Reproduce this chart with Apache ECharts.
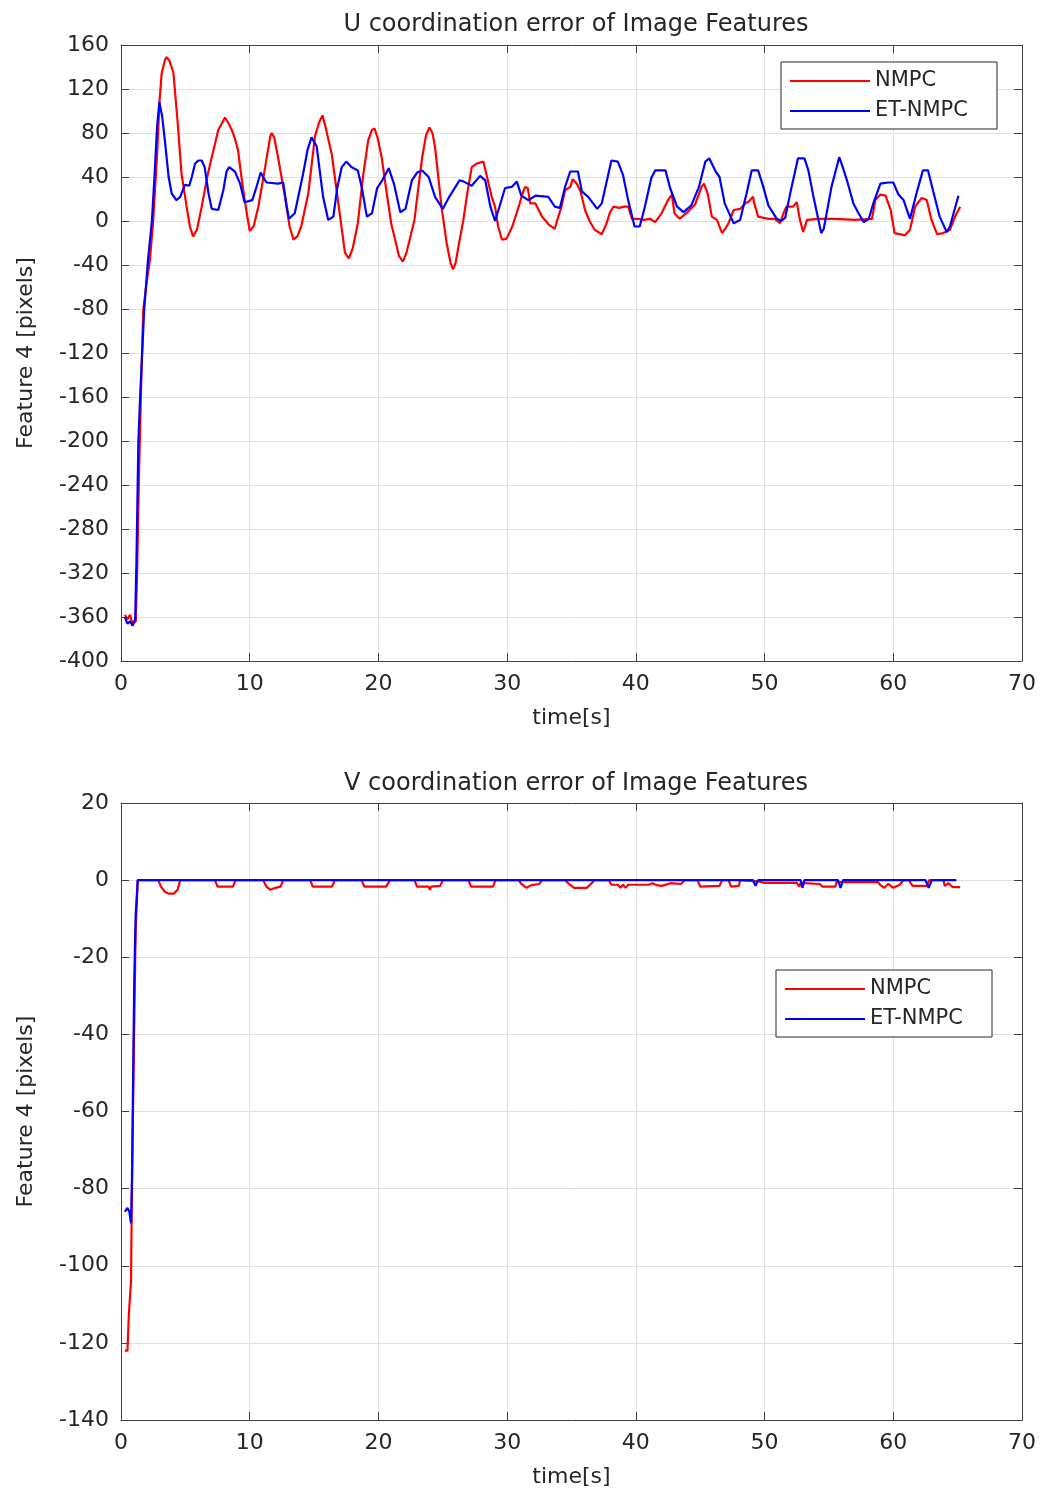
<!DOCTYPE html>
<html>
<head>
<meta charset="utf-8">
<script src="https://cdn.jsdelivr.net/npm/echarts@6/dist/echarts.min.js"></script>
<style>
html,body{margin:0;padding:0;background:#fff;}
#chart{width:1045px;height:1495px;}
</style>
</head>
<body>
<div id="chart"></div>
<script>
// ---- Data ----
const seriesNames = ['NMPC', 'ET-NMPC'];
const titles = ['U coordination error of Image Features', 'V coordination error of Image Features'];
const xLabel = 'time[s]';
const yLabel = 'Feature 4 [pixels]';
const xTicks = {min: 0, max: 70, interval: 10};
const uTicks = {min: -400, max: 160, interval: 40};
const vTicks = {min: -140, max: 20, interval: 20};

// U coordinate error, NMPC (red)
const uNmpc = [[0.3,-358],[0.5,-362],[0.7,-358],[0.9,-366],[1.15,-364],[1.25,-320],[1.4,-230],[1.55,-156],[1.73,-81],[2.0,-55],[2.25,-35],[2.5,0],[2.8,60],[3.0,110],[3.16,134],[3.4,146],[3.55,149],[3.75,146],[4.07,135],[4.4,90],[4.7,43],[5.1,13],[5.35,-5],[5.6,-14],[5.9,-8],[6.27,13],[6.7,40],[7.05,58],[7.3,70],[7.56,83],[7.8,88],[8.08,94],[8.3,90],[8.6,83],[8.85,75],[9.1,64],[9.3,45],[9.5,28],[9.8,5],[10.0,-9],[10.3,-5],[10.67,13],[11.2,49],[11.6,77],[11.7,80],[11.9,76],[12.2,58],[12.74,22],[13.1,-5],[13.4,-17],[13.7,-14],[14.0,-5],[14.55,25],[15.07,77],[15.4,90],[15.65,96],[15.9,85],[16.37,61],[16.9,15],[17.4,-29],[17.7,-34],[18.0,-25],[18.4,-2],[18.8,40],[19.2,73],[19.5,83],[19.7,84],[19.95,75],[20.25,58],[20.65,25],[21.0,-3],[21.3,-17],[21.6,-32],[21.9,-37],[22.2,-28],[22.8,1],[23.1,30],[23.4,58],[23.7,78],[23.96,85],[24.2,80],[24.4,67],[24.9,13],[25.3,-20],[25.6,-38],[25.8,-44],[26.0,-38],[26.3,-18],[26.6,1],[26.9,25],[27.25,49],[27.6,52],[28.15,54],[28.5,37],[28.8,22],[29.06,13],[29.3,-5],[29.6,-17],[29.96,-16],[30.4,-5],[30.9,13],[31.2,25],[31.4,31],[31.6,30],[31.8,16],[32.2,16],[32.7,4],[33.0,0],[33.3,-4],[33.7,-7],[34.0,5],[34.2,12],[34.5,28],[34.9,31],[35.1,38],[35.4,34],[35.7,27],[36.05,10],[36.4,0],[36.8,-8],[37.35,-12],[37.7,-3],[38.0,8],[38.25,13],[38.7,12],[39.1,13],[39.4,13],[39.7,2],[40.2,2],[40.6,1],[41.1,2],[41.5,-1],[42.0,7],[42.5,19],[42.8,24],[43.0,7],[43.4,2],[44.1,9],[44.6,15],[45.1,31],[45.3,34],[45.6,24],[45.9,4],[46.3,1],[46.7,-11],[47.0,-6],[47.2,-2],[47.6,10],[48.1,11],[48.5,16],[48.8,18],[49.1,22],[49.2,16],[49.5,4],[50.3,2],[50.8,2],[51.2,-2],[51.5,8],[51.7,13],[52.2,13],[52.5,17],[52.75,1],[53.0,-10],[53.3,1],[54.2,2],[55.5,2],[57.0,1],[58.35,2],[58.6,19],[59.0,24],[59.4,23],[59.8,10],[60.1,-11],[60.5,-12],[60.9,-13],[61.3,-8],[61.7,13],[62.2,21],[62.6,19],[62.97,1],[63.4,-12],[63.9,-11],[64.4,-8],[64.8,4],[65.2,13]];

// U coordinate error, ET-NMPC (blue)
const uEtNmpc = [[0.3,-360],[0.5,-366],[0.7,-364],[0.9,-368],[1.1,-362],[1.2,-310],[1.35,-200],[1.5,-156],[1.8,-81],[2.1,-35],[2.4,0],[2.6,40],[2.8,85],[2.98,108],[3.2,95],[3.4,74],[3.7,40],[3.94,25],[4.3,19],[4.6,22],[4.97,33],[5.3,32],[5.5,40],[5.75,52],[6.0,55],[6.27,55],[6.5,49],[6.8,25],[7.05,11],[7.56,10],[7.95,28],[8.2,45],[8.4,49],[8.85,45],[9.25,34],[9.6,17],[10.2,19],[10.5,30],[10.85,44],[11.3,35],[12.2,34],[12.6,35],[12.85,15],[13.05,2],[13.5,7],[14.15,43],[14.5,65],[14.8,76],[15.2,68],[15.7,22],[16.1,1],[16.5,4],[16.8,30],[17.15,49],[17.5,54],[17.9,49],[18.4,46],[18.7,31],[19.1,4],[19.5,7],[19.9,30],[20.3,37],[20.8,48],[21.2,34],[21.7,8],[22.1,11],[22.6,37],[23.0,44],[23.4,46],[23.9,40],[24.4,22],[25.0,11],[25.5,22],[26.3,37],[26.6,36],[27.25,32],[27.9,41],[28.3,37],[28.7,13],[29.06,0],[29.4,13],[29.84,30],[30.36,31],[30.75,36],[31.1,23],[31.65,19],[32.2,23],[33.2,22],[33.7,13],[34.1,12],[34.5,31],[34.9,45],[35.5,45],[35.8,27],[36.3,22],[37.0,11],[37.35,16],[37.7,34],[38.1,55],[38.6,54],[39.0,42],[39.4,19],[39.9,-5],[40.3,-5],[40.7,13],[41.2,39],[41.5,46],[42.3,46],[42.66,30],[43.2,13],[43.7,8],[44.3,14],[44.9,31],[45.4,54],[45.7,57],[46.2,45],[46.5,40],[46.9,16],[47.6,-2],[48.1,1],[48.6,25],[49.0,46],[49.5,46],[49.9,31],[50.3,14],[50.95,2],[51.3,0],[51.6,3],[52.1,31],[52.6,57],[53.1,57],[53.4,46],[53.8,22],[54.4,-11],[54.6,-7],[55.2,31],[55.8,58],[56.1,48],[56.4,37],[56.9,16],[57.3,7],[57.7,-1],[58.1,2],[58.45,16],[59.0,34],[59.6,35],[60.0,35],[60.4,24],[60.8,19],[61.3,2],[61.8,25],[62.3,46],[62.7,46],[63.1,27],[63.6,4],[64.15,-10],[64.4,-5],[65.06,23]];

// V coordinate error, NMPC (red)
const vNmpc = [[0.3,-122],[0.5,-122],[0.62,-112],[0.78,-104],[0.83,-86],[1.0,-43],[1.14,-13],[1.3,0],[2.9,0],[3.1,-1.7],[3.4,-3],[3.7,-3.5],[4.1,-3.5],[4.4,-2.5],[4.6,0],[7.3,0],[7.5,-1.7],[8.7,-1.7],[8.9,0],[11.05,0],[11.3,-1.7],[11.6,-2.5],[12.0,-2],[12.4,-1.7],[12.6,0],[14.7,0],[14.9,-1.7],[16.4,-1.7],[16.6,0],[18.7,0],[18.9,-1.7],[20.6,-1.7],[20.9,0],[22.8,0],[23.0,-1.7],[23.9,-1.7],[24.0,-2.5],[24.1,-1.7],[24.8,-1.5],[25.0,0],[27.0,0],[27.2,-1.7],[28.9,-1.7],[29.1,0],[30.9,0],[31.1,-1],[31.5,-2],[31.9,-1.3],[32.5,-1],[32.7,0],[34.5,0],[34.8,-1],[35.2,-2],[36.2,-2],[36.5,-1],[36.8,0],[37.9,0],[38.1,-1.2],[38.6,-1.2],[38.8,-2],[39.0,-1.2],[39.2,-2],[39.4,-1.2],[41.0,-1.2],[41.3,-0.8],[41.6,-1.3],[42.0,-1.5],[42.7,-0.8],[43.5,-1],[43.8,0],[44.8,0],[45.0,-1.7],[46.5,-1.5],[46.7,0],[47.2,0],[47.4,-1.7],[48.0,-1.5],[48.1,0],[49.5,-0.3],[50.0,-0.7],[52.5,-0.7],[52.7,-1.7],[52.8,-0.7],[54.3,-1],[54.5,-1.7],[55.5,-1.7],[55.6,-0.5],[56.0,-0.5],[58.8,-0.5],[59.0,-1.3],[59.3,-2],[59.6,-1],[60.0,-2],[60.5,-1.2],[60.8,0],[61.2,0],[61.5,-1.5],[62.6,-1.5],[62.8,0],[63.9,0],[64.0,-1.5],[64.3,-0.8],[64.6,-1.8],[65.2,-1.8]];

// V coordinate error, ET-NMPC (blue)
const vEtNmpc = [[0.3,-86],[0.5,-85],[0.65,-86],[0.78,-89],[0.85,-78],[1.03,-26],[1.14,-9],[1.3,0],[49.1,0],[49.3,-1.5],[49.5,0],[52.8,0],[52.95,-2],[53.1,0],[55.7,0],[55.9,-2],[56.1,0],[62.5,0],[62.75,-2],[63.0,0],[64.9,0]];

const colors = ['#ff0000', '#0000ff'];

// ---- Styling ----
const FONT = 'DejaVu Sans';
const TXT = '#262626';
const AXC = '#404040';
const grids = [
  {left: 121, top: 45, width: 901, height: 616},
  {left: 121, top: 803, width: 901, height: 617}
];

function mainX(gi) {
  return {
    type: 'value', gridIndex: gi, position: 'bottom',
    min: xTicks.min, max: xTicks.max, interval: xTicks.interval,
    name: xLabel, nameLocation: 'middle', nameGap: 46,
    nameTextStyle: {fontFamily: FONT, fontSize: 22, color: TXT},
    axisLine: {show: true, onZero: false, lineStyle: {color: AXC, width: 1}},
    axisTick: {show: true, inside: true, length: 8, lineStyle: {color: AXC}},
    axisLabel: {fontFamily: FONT, fontSize: 22, color: TXT, margin: 12},
    splitLine: {show: true, lineStyle: {color: '#e0e0e0', width: 1}}
  };
}
function topX(gi) {
  return {
    type: 'value', gridIndex: gi, position: 'top',
    min: xTicks.min, max: xTicks.max, interval: xTicks.interval,
    axisLine: {show: true, onZero: false, lineStyle: {color: AXC, width: 1}},
    axisTick: {show: true, inside: true, length: 8, lineStyle: {color: AXC}},
    axisLabel: {show: false}, splitLine: {show: false}
  };
}
function mainY(gi, t) {
  return {
    type: 'value', gridIndex: gi, position: 'left',
    min: t.min, max: t.max, interval: t.interval,
    name: yLabel, nameLocation: 'middle', nameGap: 84, nameRotate: 90,
    nameTextStyle: {fontFamily: FONT, fontSize: 22, color: TXT},
    axisLine: {show: true, onZero: false, lineStyle: {color: AXC, width: 1}},
    axisTick: {show: true, inside: true, length: 8, lineStyle: {color: AXC}},
    axisLabel: {fontFamily: FONT, fontSize: 22, color: TXT, margin: 12},
    splitLine: {show: true, lineStyle: {color: '#e0e0e0', width: 1}}
  };
}
function rightY(gi, t) {
  return {
    type: 'value', gridIndex: gi, position: 'right',
    min: t.min, max: t.max, interval: t.interval,
    axisLine: {show: true, onZero: false, lineStyle: {color: AXC, width: 1}},
    axisTick: {show: true, inside: true, length: 8, lineStyle: {color: AXC}},
    axisLabel: {show: false}, splitLine: {show: false}
  };
}
function line(name, data, color, xi, yi) {
  return {
    type: 'line', name: name, data: data, xAxisIndex: xi, yAxisIndex: yi,
    showSymbol: false, symbol: 'none', smooth: false,
    lineStyle: {color: color, width: 2.2}, itemStyle: {color: color},
    animation: false
  };
}
function legend(left, top) {
  return {
    data: seriesNames, orient: 'vertical', left: left, top: top,
    icon: 'rect', itemWidth: 80, itemHeight: 2, itemGap: 8,
    padding: [8, 8, 7, 9], backgroundColor: '#fff',
    borderColor: '#262626', borderWidth: 1,
    selectedMode: false,
    textStyle: {fontFamily: FONT, fontSize: 21, color: TXT, lineHeight: 22, width: 114}
  };
}

const chart = echarts.init(document.getElementById('chart'), null, {renderer: 'canvas'});
chart.setOption({
  backgroundColor: '#fff',
  animation: false,
  title: [
    {text: titles[0], left: 571, top: 8, textAlign: 'center',
     textStyle: {fontFamily: FONT, fontSize: 24, fontWeight: 'normal', color: TXT}},
    {text: titles[1], left: 571, top: 767, textAlign: 'center',
     textStyle: {fontFamily: FONT, fontSize: 24, fontWeight: 'normal', color: TXT}}
  ],
  legend: [legend(781, 62), legend(776, 970)],
  grid: grids,
  xAxis: [mainX(0), topX(0), mainX(1), topX(1)],
  yAxis: [mainY(0, uTicks), rightY(0, uTicks), mainY(1, vTicks), rightY(1, vTicks)],
  series: [
    line(seriesNames[0], uNmpc, colors[0], 0, 0),
    line(seriesNames[1], uEtNmpc, colors[1], 0, 0),
    line(seriesNames[0], vNmpc, colors[0], 2, 2),
    line(seriesNames[1], vEtNmpc, colors[1], 2, 2)
  ]
});
</script>
</body>
</html>
